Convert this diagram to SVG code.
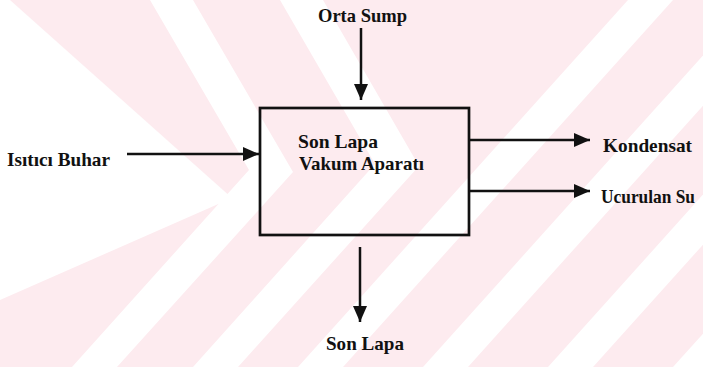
<svg xmlns="http://www.w3.org/2000/svg" width="703" height="367" viewBox="0 0 703 367">
<defs>
<style>
.wm{fill:#ffffff;stroke:none}
.ln{stroke:#111;stroke-width:2.5;fill:none}
.bx{stroke:#111;stroke-width:2.7;fill:none}
.t{font-family:"Liberation Serif","Times New Roman",serif;font-weight:bold;font-size:19px;fill:#111}
</style>
<marker id="ah" viewBox="0 0 16 14" refX="16" refY="7" markerWidth="16" markerHeight="14" markerUnits="userSpaceOnUse" orient="auto">
<path d="M0,0 L16,7 L0,14 Z" fill="#111"/>
</marker>
</defs>
<g id="watermark">
<rect x="0" y="0" width="703" height="367" fill="#fdebef"/>
<polygon class="wm" points="0,0 10,0 232,198 0,300"/>
<polygon class="wm" points="150,0 193,0 293,172 117,367 72,367 249,170"/>
<polygon class="wm" points="280,0 323,0 419,166 238,367 193,367 375,164"/>
<polygon class="wm" points="628,0 673,0 343,367 298,367"/>
<polygon class="wm" points="753,0 798,0 468,367 423,367"/>
<polygon class="wm" points="878,0 923,0 593,367 548,367"/>
<polygon class="wm" points="1003,0 1048,0 718,367 673,367"/>
</g>
<g id="connectors">
<line class="ln" x1="361" y1="28" x2="361" y2="100" marker-end="url(#ah)"/>
<line class="ln" x1="127" y1="154" x2="259" y2="154" marker-end="url(#ah)"/>
<line class="ln" x1="469" y1="140" x2="590" y2="140" marker-end="url(#ah)"/>
<line class="ln" x1="469" y1="191" x2="590" y2="191" marker-end="url(#ah)"/>
<line class="ln" x1="360" y1="247" x2="360" y2="322" marker-end="url(#ah)"/>
</g>
<g id="node-box">
<rect class="bx" x="260" y="108" width="209" height="127"/>
<text class="t" x="298" y="148" textLength="80" lengthAdjust="spacingAndGlyphs">Son Lapa</text>
<text class="t" x="299" y="170" textLength="125" lengthAdjust="spacingAndGlyphs">Vakum Aparatı</text>
</g>
<g id="node-orta">
<text class="t" x="318" y="22" textLength="89" lengthAdjust="spacingAndGlyphs">Orta Sump</text>
</g>
<g id="node-isitici">
<text class="t" x="7" y="166" textLength="103" lengthAdjust="spacingAndGlyphs">Isıtıcı Buhar</text>
</g>
<g id="node-kondensat">
<text class="t" x="603" y="152" textLength="89" lengthAdjust="spacingAndGlyphs">Kondensat</text>
</g>
<g id="node-ucurulan">
<text class="t" x="601" y="203" textLength="94" lengthAdjust="spacingAndGlyphs">Ucurulan Su</text>
</g>
<g id="node-sonlapa">
<text class="t" x="326" y="350" textLength="78" lengthAdjust="spacingAndGlyphs">Son Lapa</text>
</g>
</svg>
